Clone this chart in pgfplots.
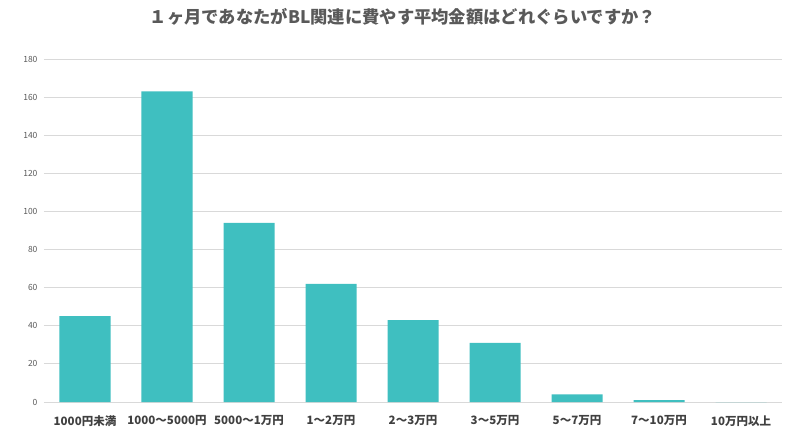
\documentclass[border=0pt]{standalone}
\usepackage{pgfplots}
\pgfplotsset{compat=1.18}
\usepackage{fontspec}
\setmainfont{Noto Sans CJK JP}
\newfontfamily\cjk{Noto Sans CJK JP}
\definecolor{barteal}{HTML}{3FBFC0}
\definecolor{gridgray}{HTML}{D9D9D9}
\definecolor{textgray}{HTML}{595959}
\definecolor{labelgray}{HTML}{404040}
\begin{document}
\begin{tikzpicture}[x=1pt,y=1pt]
\useasboundingbox (-44,-42) rectangle (756,402);
\begin{axis}[
  at={(0,0)}, anchor=south west,
  scale only axis,
  width=738pt, height=343pt,
  ymin=0, ymax=180,
  ytick={0,20,...,180},
  xmin=-0.5, xmax=8.5,
  xtick={0,...,8},
  xticklabels={1000円未満,1000～5000円,5000～1万円,1～2万円,2～3万円,3～5万円,5～7万円,7～10万円,10万円以上},
  x tick label style={font=\cjk\bfseries\fontsize{11.5}{13}\selectfont, text=labelgray, yshift=-6pt},
  y tick label style={font=\cjk\fontsize{8.5}{10}\selectfont, text=textgray, xshift=-3pt},
  /pgf/number format/assume math mode=true,
  ymajorgrids, grid style={gridgray, line width=0.8pt},
  axis line style={draw=none},
  major tick style={draw=none},
  ybar, bar width=51pt,
  axis x line*=bottom,
  clip=false,
]
\draw[gridgray, line width=0.8pt] (axis cs:-0.5,0) -- (axis cs:8.5,0);
\addplot[fill=barteal, draw=none] coordinates {
  (0,45) (1,163) (2,94) (3,62) (4,43) (5,31) (6,4) (7,1) (8,0)
};
\end{axis}
\node[font=\cjk\bfseries\fontsize{17.3}{20}\selectfont, text=textgray] at (359,385) {１ヶ月であなたがBL関連に費やす平均金額はどれぐらいですか？};
\end{tikzpicture}
\end{document}
